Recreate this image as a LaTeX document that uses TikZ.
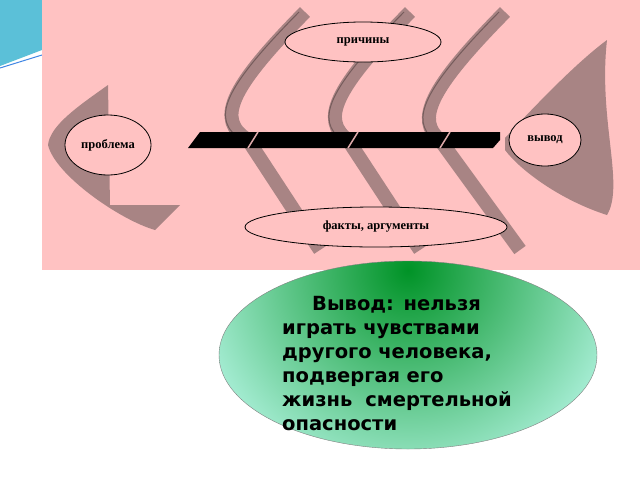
\documentclass[tikz,border=0pt]{standalone}
\usepackage{fontspec}
\setmainfont{Liberation Serif}
\newfontfamily\dvs{DejaVu Sans}
\begin{document}
\begin{tikzpicture}[x=1pt,y=-1pt,
  bone/.style={draw=none,fill=bonec},
  lbl/.style={ellipse,draw=black,fill=pinkc,line width=0.8pt,inner sep=0pt,font=\bfseries\fontsize{12.5}{14}\selectfont}]
\usetikzlibrary{shapes.geometric}
\definecolor{pinkc}{HTML}{FFC2C2}
\definecolor{bonec}{HTML}{A88484}
\definecolor{cyanc}{HTML}{5BC0D8}
\useasboundingbox (0,0) rectangle (640,480);
\fill[white] (0,0) rectangle (640,480);
\fill[cyanc] (0,0) -- (42,0) -- (42,50) -- (0,66) -- cycle;
\draw[cyanc!70!blue,line width=1pt] (0,68) -- (42,55);
\fill[pinkc] (42,0) rectangle (640,270);
% tail
\fill[bone] (108,85) .. controls (80,105) and (50,125) .. (48,145) .. controls (55,175) and (120,220) .. (155,230) -- (180,205) -- (110,205) -- cycle;
\node[lbl,minimum width=86pt,minimum height=60pt] (prob) at (108,145) {проблема};
% bones
\foreach \t/\c/\s/\b in {305/228/248/320, 410/333/348/420, 505/428/440/520}{
  \draw[bonec,line width=14pt] (\t,12) .. controls (\c,90) and (\c-12,120) .. (\s,140) -- (\b,250);
  \draw[bonec!70!black,line width=1pt] (\t-6,12) .. controls (\c-6,90) and (\c-18,120) .. (\s-6,140);
}
% spine
\fill[black] (188,148) -- (200,132) -- (500,132) -- (500,140) -- (493,148) -- cycle;
\foreach \g in {248,348,440}{\draw[pinkc!60!bonec,line width=1.5pt] (\g,148) -- (\g+10,132);}
% head
\fill[bone] (505,138) .. controls (545,95) and (580,60) .. (607,40) .. controls (598,120) and (625,185) .. (607,215) .. controls (560,200) and (520,170) .. (505,150) -- cycle;
\node[lbl,minimum width=72pt,minimum height=52pt] (vyvod) at (545,140) {вывод};
\node[lbl,minimum width=156pt,minimum height=40pt] (prich) at (363,42) {причины};
\node[lbl,minimum width=262pt,minimum height=40pt] (fakty) at (376,227) {факты, аргументы};
% conclusion
\begin{scope}
\clip (408,355) ellipse [x radius=189pt,y radius=94pt];
\shade[inner color=green!50!black!85!cyan,outer color=green!15!cyan!22] (408,270) circle (260pt);
\end{scope}
\draw[black!50] (408,355) ellipse [x radius=189pt,y radius=94pt];
\node[anchor=north west,align=left,font=\dvs\bfseries\fontsize{19.5}{24}\selectfont,text width=340pt,inner sep=0pt] (concl) at (282,296)
 {\hspace*{30pt}Вывод: нельзя\\играть чувствами\\другого человека,\\подвергая его\\жизнь\ \ смертельной\\опасности};
\end{tikzpicture}
\end{document}
